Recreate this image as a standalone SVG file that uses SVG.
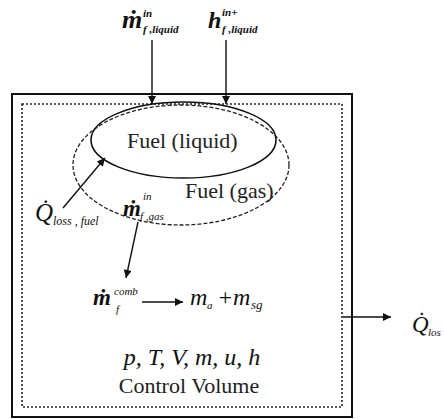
<svg xmlns="http://www.w3.org/2000/svg" width="444" height="419" viewBox="0 0 444 419">
<style>
.m{font-style:italic;fill:#111}
.b{font-weight:bold}
.sm{font-size:11px}
.t{fill:#222;font-size:22px}
.ln{stroke:#111;stroke-width:1.4;fill:none}
</style>
<defs>
<marker id="ah" viewBox="0 0 10 10" refX="10" refY="5" markerWidth="11" markerHeight="8" markerUnits="userSpaceOnUse" orient="auto">
<path d="M0,0L10,5L0,10z" fill="#111"/>
</marker>
</defs>
<g id="control-volume" font-family="Liberation Serif, serif">
<rect x="12" y="94" width="340" height="323" fill="none" stroke="#111" stroke-width="2"/>
<rect x="22" y="104" width="320" height="303" fill="none" stroke="#222" stroke-width="1.6" stroke-dasharray="2,2"/>
<text class="m" x="192" y="365" font-size="24" text-anchor="middle">p, T, V, m, u, h</text>
<text class="t" x="189" y="393" font-size="24" text-anchor="middle">Control Volume</text>
</g>
<g id="fuel-gas" font-family="Liberation Serif, serif">
<ellipse cx="181" cy="165" rx="108" ry="60" fill="none" stroke="#222" stroke-width="1.3" stroke-dasharray="4,2"/>
<text class="t" x="185" y="198">Fuel (gas)</text>
</g>
<g id="fuel-liquid" font-family="Liberation Serif, serif">
<ellipse cx="183.5" cy="140" rx="92.5" ry="38" fill="none" stroke="#111" stroke-width="1.6"/>
<text class="t" x="127" y="148">Fuel (liquid)</text>
</g>
<g id="labels" font-family="Liberation Serif, serif">
<text class="m b" x="122" y="28" font-size="26">ṁ</text>
<text class="m b sm" x="143" y="17">in</text>
<text class="m b sm" x="143" y="33">f ,liquid</text>
<text class="m b" x="208" y="28" font-size="24">h</text>
<text class="m b sm" x="222" y="16">in+</text>
<text class="m b sm" x="222" y="33">f ,liquid</text>
<text class="m" x="35" y="221" font-size="25">Q̇</text>
<text class="m" x="53" y="225" font-size="12">loss , fuel</text>
<text class="m b" x="123" y="216" font-size="23">ṁ</text>
<text class="m sm" x="143" y="200">in</text>
<text class="m sm" x="140" y="220">f ,gas</text>
<text class="m b" x="93" y="305" font-size="23">ṁ</text>
<text class="m sm" x="114" y="295">comb</text>
<text class="m sm" x="116" y="313">f</text>
<text class="m" x="190" y="305" font-size="24">m</text>
<text class="m sm" x="207" y="309">a</text>
<text class="m" x="217" y="305" font-size="24" font-style="normal">+</text>
<text class="m" x="233" y="305" font-size="24">m</text>
<text class="m" x="251" y="309" font-size="13">sg</text>
<text class="m" x="412" y="332" font-size="23">Q̇</text>
<text class="m sm" x="428" y="336">los</text>
</g>
<g id="connectors">
<line class="ln" x1="152" y1="40" x2="152" y2="104" marker-end="url(#ah)"/>
<line class="ln" x1="226" y1="40" x2="226" y2="104" marker-end="url(#ah)"/>
<line class="ln" x1="63" y1="208" x2="105" y2="158" marker-end="url(#ah)"/>
<line class="ln" x1="138" y1="222" x2="126" y2="278" marker-end="url(#ah)"/>
<line class="ln" x1="142" y1="302" x2="183" y2="302" marker-end="url(#ah)"/>
<line class="ln" x1="343" y1="317" x2="391" y2="317" marker-end="url(#ah)"/>
</g>
</svg>
